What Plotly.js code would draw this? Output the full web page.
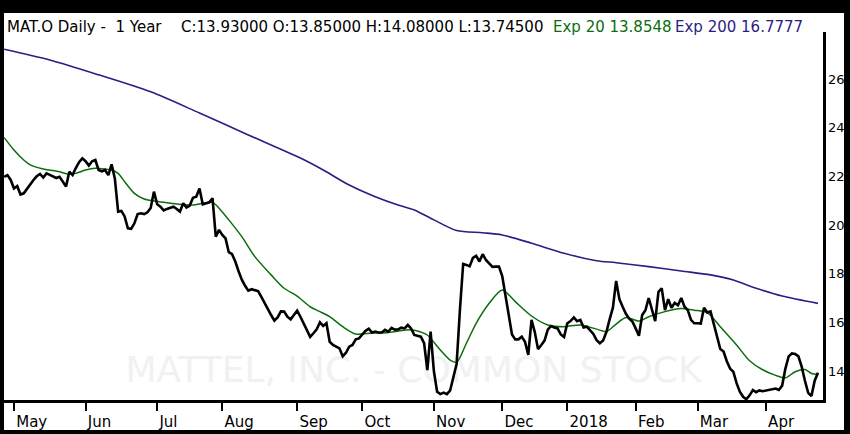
<!DOCTYPE html>
<html><head><meta charset="utf-8">
<script src="https://cdn.plot.ly/plotly-3.0.1.min.js"></script>
<style>
html,body{margin:0;padding:0;background:#fff;width:850px;height:434px;overflow:hidden}
#chart{position:absolute;left:0;top:0;width:850px;height:434px}
.fr{position:absolute;background:#000;z-index:10}
</style>
</head><body><div id="chart"></div>
<div class="fr" style="left:0;top:0;width:850px;height:13px"></div>
<div class="fr" style="left:0;top:0;width:4px;height:434px"></div>
<div class="fr" style="left:844px;top:0;width:6px;height:434px"></div>
<div class="fr" style="left:0;top:430px;width:850px;height:4px"></div>
<script>
// Trading calendar (1 year of daily bars)
const startDate = '2017-04-26';
const endDate = '2018-04-24';
const holidays = ['2017-05-29','2017-07-04','2017-09-04','2017-11-23','2017-12-25',
                  '2018-01-01','2018-01-15','2018-02-19','2018-03-30'];

// Daily close values
const closeVals = [
 21.98,22.05,21.85,21.5,21.6,21.25,21.3,21.5,21.69,21.85,
 22.0,22.1,21.95,22.12,22.06,21.98,21.93,21.98,21.78,21.58,
 22.19,22.05,22.34,22.58,22.74,22.62,22.44,22.62,22.67,22.26,
 22.2,22.26,22.05,22.49,21.9,20.55,20.58,20.35,19.86,19.84,
 20.07,20.45,20.48,20.45,20.52,20.7,21.37,20.85,20.75,20.6,
 20.66,20.69,20.75,20.66,20.55,20.89,20.72,20.8,21.12,21.16,
 21.5,20.85,20.9,20.93,21.1,19.52,19.8,19.59,19.45,18.88,
 18.8,18.5,18.1,17.75,17.5,17.3,17.36,17.33,17.28,17.05,
 16.8,16.5,16.3,16.07,16.2,16.45,16.44,16.23,16.12,16.3,
 16.48,16.23,15.96,15.65,15.4,15.55,15.71,16.0,15.85,15.96,
 15.2,15.07,15.0,14.93,14.6,14.75,15.0,15.07,15.3,15.34,
 15.5,15.65,15.74,15.58,15.62,15.58,15.58,15.69,15.62,15.77,
 15.7,15.71,15.78,15.75,15.89,15.75,15.48,15.44,15.41,15.14,
 14.04,15.62,14.0,13.15,13.05,13.11,13.05,13.2,13.7,14.3,
 16.5,18.4,18.36,18.3,18.65,18.73,18.5,18.8,18.56,18.4,
 18.28,18.29,18.29,17.9,17.05,16.3,15.5,15.3,15.3,15.41,
 15.2,14.66,16.1,15.6,14.9,15.07,15.25,15.7,15.85,15.79,
 15.75,15.5,15.4,15.96,16.05,16.2,16.05,16.1,15.79,15.82,
 15.69,15.52,15.27,15.14,15.25,15.6,16.12,16.6,17.7,16.95,
 16.64,16.35,16.15,16.03,15.75,15.45,16.3,16.5,17.0,16.5,
 16.05,17.25,17.4,16.5,16.95,16.6,16.8,16.7,17.0,16.64,
 16.5,16.1,15.96,15.96,15.95,16.6,16.4,16.45,15.95,15.5,
 14.9,14.8,14.4,14.1,13.97,13.5,13.15,12.94,12.84,13.0,
 13.22,13.13,13.2,13.17,13.2,13.24,13.25,13.28,13.22,13.4,
 14.1,14.6,14.72,14.7,14.6,14.18,13.6,13.1,12.97,13.6,
 13.93
];

// Exp 20 (bar index -> value)
const ema20Idx = [0,3,6,8,12,17,20,22,25,28,31,33,35,37,40,43,46,49,53,58,61,64,66,69,73,77,82,86,90,94,97,100,104,108,112,118,125,128,130,134,137,139,142,145,149,153,157,162,167,172,177,182,185,188,191,195,198,203,208,212,216,220,225,229,233,237,240,243,246,248,250];
const ema20Vals = [23.59,23.08,22.67,22.47,22.3,22.19,22.08,22.12,22.26,22.33,22.3,22.26,22.12,21.78,21.3,21.07,20.99,20.93,20.86,20.82,20.89,20.93,20.69,20.21,19.52,18.7,17.95,17.4,17.08,16.64,16.44,16.23,15.82,15.52,15.55,15.58,15.69,15.6,15.48,14.86,14.45,14.36,15.14,15.96,16.78,17.33,16.85,16.26,15.89,15.82,15.89,15.72,15.62,15.93,16.2,16.05,16.23,16.44,16.57,16.5,16.4,15.82,15.07,14.42,14.05,13.82,13.72,13.97,14.06,13.9,13.86];

// Exp 200 (bar index -> value)
const ema200Idx = [0,14,29,45,60,75,91,98,106,114,121,126,132,139,147,153,162,172,182,188,198,208,217,224,231,239,250];
const ema200Vals = [27.22,26.78,26.17,25.47,24.6,23.7,22.75,22.26,21.64,21.16,20.82,20.62,20.21,19.77,19.68,19.59,19.25,18.84,18.53,18.45,18.29,18.11,17.95,17.74,17.4,17.08,16.78];

const monthLabels = ['May','Jun','Jul','Aug','Sep','Oct','Nov','Dec','2018','Feb','Mar','Apr'];
const yTicks = [14,16,18,20,22,24,26];

// Build trading dates
function fmt(d){return d.toISOString().slice(0,10);}
const dates = [];
for (let d = new Date(startDate+'T00:00:00Z'); fmt(d) <= endDate; d.setUTCDate(d.getUTCDate()+1)) {
  const wd = d.getUTCDay();
  const s = fmt(d);
  if (wd === 0 || wd === 6 || holidays.includes(s)) continue;
  dates.push(s);
}
const xs = dates.slice(0, closeVals.length);
const tickvals = [];
for (let i = 1; i < xs.length; i++) {
  if (xs[i].slice(0,7) !== xs[i-1].slice(0,7)) tickvals.push(xs[i]);
}

const FONT = 'DejaVu Sans, Verdana, sans-serif';
const GREEN = '#0a6e0a', PURPLE = '#2c1c84';

const traces = [
  {x: ema200Idx.map(i=>xs[i]), y: ema200Vals, mode:'lines', line:{color:PURPLE,width:1.6,shape:'spline',smoothing:0.8}, hoverinfo:'skip'},
  {x: ema20Idx.map(i=>xs[i]), y: ema20Vals, mode:'lines', line:{color:GREEN,width:1.5,shape:'spline',smoothing:0.8}, hoverinfo:'skip'},
  {x: xs, y: closeVals, mode:'lines', line:{color:'#000',width:2.6}, hoverinfo:'skip'}
];

const pxPerBar = 3.255, firstBarPx = 0.2, plotW = 819;
const layout = {
  width: 850, height: 434,
  margin: {l:4, r:27, t:32, b:34, pad:0},
  paper_bgcolor: '#fff', plot_bgcolor: '#fff',
  showlegend: false,
  xaxis: {
    type:'category', categoryorder:'array', categoryarray: xs,
    range: [(0-firstBarPx)/pxPerBar, (plotW-firstBarPx)/pxPerBar],
    tickvals: tickvals, ticktext: monthLabels.slice(0, tickvals.length),
    ticks:'outside', ticklen:8, tickwidth:2, tickcolor:'#000',
    ticklabelposition:'outside right', ticklabelstandoff:6,
    showline:true, linecolor:'#000', linewidth:2.5, mirror:false,
    showgrid:false, zeroline:false, automargin:false,
    tickfont:{family:FONT, size:15, color:'#000'}
  },
  yaxis: {
    side:'right', range:[12.808, 27.93],
    tickvals: yTicks, ticks:'', showline:true, linecolor:'#000', linewidth:2.5,
    showgrid:false, zeroline:false, automargin:false,
    tickfont:{family:FONT, size:13, color:'#000'}
  },
  font:{family:FONT, color:'#000'},
  shapes: [{
    type:'rect', xref:'paper', yref:'paper', x0:0.05, x1:0.95, y0:0.0, y1:0.18,
    line:{width:0}, fillcolor:'rgba(0,0,0,0)', layer:'below',
    label:{text:'MATTEL, INC. - COMMON STOCK', textposition:'middle center',
           font:{family:FONT, size:36, color:'#f1f1f1'}}
  }],
  annotations: [
    {text:'MAT.O Daily -  1 Year', xshift:1, color:'#000'},
    {text:'C:13.93000 O:13.85000 H:14.08000 L:13.74500', xshift:175, color:'#000'},
    {text:'Exp 20 13.8548', xshift:547, color:GREEN},
    {text:'Exp 200 16.7777', xshift:669, color:PURPLE}
  ].map(a => ({
    text:a.text.replace(/  /g,' &nbsp;'), xref:'paper', yref:'paper', x:0, y:1, xanchor:'left', yanchor:'middle',
    xshift:a.xshift, yshift:5, showarrow:false,
    font:{family:FONT, size:15, color:a.color}
  }))
};

Plotly.newPlot('chart', traces, layout, {displayModeBar:false, staticPlot:true});
</script>
</body></html>
